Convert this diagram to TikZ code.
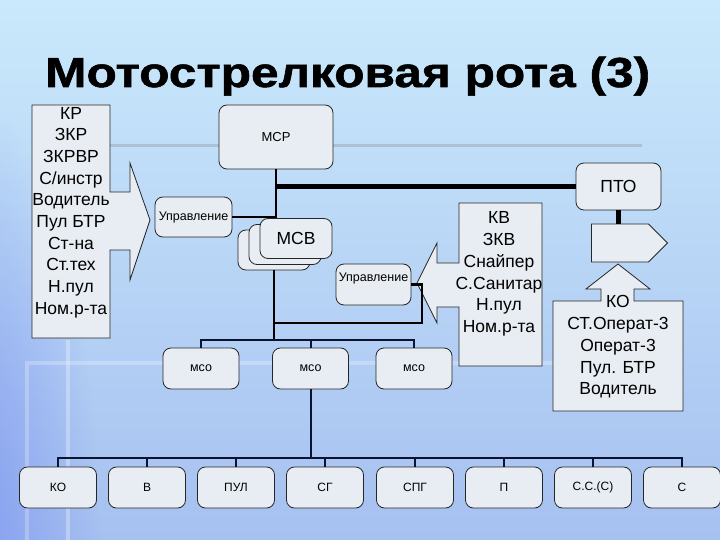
\documentclass[tikz,border=0pt]{standalone}
\usepackage{fontspec}
\setmainfont{Liberation Sans}
\newfontfamily\titlefont[BoldFeatures={FakeBold=1.2}]{Liberation Sans}
\usetikzlibrary{shapes.symbols,fadings}
\definecolor{bgtop}{RGB}{202,233,251}
\definecolor{bgbot}{RGB}{166,192,240}
\definecolor{leftblue}{RGB}{125,150,240}
\definecolor{boxfill}{RGB}{232,237,243}
\definecolor{navy}{RGB}{10,20,50}
\tikzfading[name=glow, inner color=transparent!0, outer color=transparent!100]
\begin{document}
\begin{tikzpicture}[x=1pt,y=-1pt,
  box/.style={draw=black!85, fill=boxfill, line width=0.8pt, rounded corners=8pt, inner sep=0pt},
  sqbox/.style={draw=black!85, fill=boxfill, line width=0.8pt},
  small/.style={font=\fontsize{12.5}{14}\selectfont},
  big/.style={font=\fontsize{17.5}{21.7}\selectfont, align=center},
  conn/.style={draw=navy, line width=2pt},
  upline/.style={draw=black, line width=2.6pt},
  thickline/.style={draw=black, line width=4.5pt}]
\useasboundingbox (0,0) rectangle (720,540);
% background
\shade[top color=bgtop, bottom color=bgbot] (0,0) rectangle (720,540);
\begin{scope}
\clip (0,0) rectangle (720,540);
\fill[leftblue, path fading=glow, opacity=0.85] (-30,560) ellipse [x radius=130pt, y radius=460pt];
\end{scope}
\draw[white, opacity=0.3, line width=4pt] (68,340) -- (68,540);
\draw[white, opacity=0.25, line width=4pt] (27,540) -- (27,363) -- (560,363);
\draw[gray, opacity=0.3, line width=3pt] (40,146) -- (642,146);
% title
\node[anchor=base west, inner sep=0pt] (title) at (45,87)
  {\resizebox{605pt}{\height}{\fontsize{42}{48}\titlefont\bfseries Мотострелковая рота (3)}};
% connectors (drawn below the callouts)
\coordinate (bus1) at (274,340);
\coordinate (j2) at (422,323);
% left callout
\filldraw[sqbox] (32,105) -- (110,105) -- (110,192) -- (130,192) -- (130,163) -- (150,220)
  -- (130,280) -- (130,250) -- (110,250) -- (110,338) -- (32,338) -- cycle;
\node[big, inner sep=0pt] (lcall) at (71,212.5) {КР\\ЗКР\\ЗКРВР\\С/инстр\\Водитель\\Пул БТР\\Ст-на\\Ст.тех\\Н.пул\\Ном.р-та};
% KB callout
\filldraw[sqbox] (459,203) -- (542,203) -- (542,366) -- (459,366) -- (459,307) -- (437,307)
  -- (437,323) -- (417,283) -- (437,243) -- (437,263) -- (459,263) -- cycle;
\node[big, inner sep=0pt] (kbcall) at (499,274) {КВ\\ЗКВ\\Снайпер\\С.Санитар\\Н.пул\\Ном.р-та};
% KO callout
\filldraw[sqbox] (553,301) -- (601,301) -- (601,289) -- (586,289) -- (618,264) -- (650,289)
  -- (634,289) -- (634,301) -- (683,301) -- (683,411) -- (553,411) -- cycle;
\node[big, inner sep=0pt] (kocall) at (618,347) {КО\\СТ.Операт-3\\Операт-3\\Пул. БТР\\Водитель};
% boxes
\node[box, minimum width=114pt, minimum height=64pt, font=\fontsize{13}{15}\selectfont] (msr) at (276,137) {МСР};
\node[box, small, minimum width=77pt, minimum height=40pt] (upr1) at (193.5,217) {Управление};
\node[box, minimum width=72pt, minimum height=40pt] (msv3) at (274,250) {};
\node[box, minimum width=72pt, minimum height=40pt] (msv2) at (285,244.5) {};
\node[box, minimum width=72pt, minimum height=40pt, font=\fontsize{17.5}{20}\selectfont] (msv) at (296,238.5) {МСВ};
\node[box, minimum width=75pt, minimum height=41pt] (upr2) at (373.5,284.5) {};
\node[small, inner sep=0pt] (upr2t) at (373.5,278) {Управление};
\node[box, minimum width=85pt, minimum height=47pt, font=\fontsize{17.5}{20}\selectfont] (pto) at (618.5,186.5) {ПТО};
\node[sqbox, signal, signal to=east, signal pointer angle=90, minimum width=76pt, minimum height=38pt, inner sep=0pt] (pent) at (620,243) {};
\node[box, small, minimum width=76pt, minimum height=41pt] (mso1) at (201,368.5) {мсо};
\node[box, small, minimum width=76pt, minimum height=41pt] (mso2) at (310.5,368.5) {мсо};
\node[box, small, minimum width=76pt, minimum height=41pt] (mso3) at (414,368.5) {мсо};
\foreach \n/\x/\t in {b1/58/КО, b2/147/В, b3/236/ПУЛ, b4/325/СГ, b5/415/СПГ, b6/504/П, b7/593/С.С.(С), b8/682/С}
  \node[box, font=\fontsize{12}{14}\selectfont, minimum width=77pt, minimum height=41pt] (\n) at (\x,487.5) {\t};
% connectors
\draw[upline] (msr.south) |- (upr1.east);
\draw[thickline] (msr.south |- pto.west) -- (pto.west);
\draw[thickline] (pto.south) -- (pto.south |- pent.north);
\draw[upline] (msv3.south) -- (bus1);
\draw[upline] (upr2.east) -| (j2) -- (j2 -| msv3.south);
\draw[conn] (mso1.north) -- ++(0,-8) -| (mso3.north);
\draw[conn] (mso2.north) -- ++(0,-8);
\draw[conn] (mso2.south) -- ++(0,69);
\draw[conn] (b1.north) -- ++(0,-9) -| (b8.north);
\foreach \n in {b2,b3,b4,b5,b6,b7} \draw[conn] (\n.north) -- ++(0,-9);
\end{tikzpicture}
\end{document}
